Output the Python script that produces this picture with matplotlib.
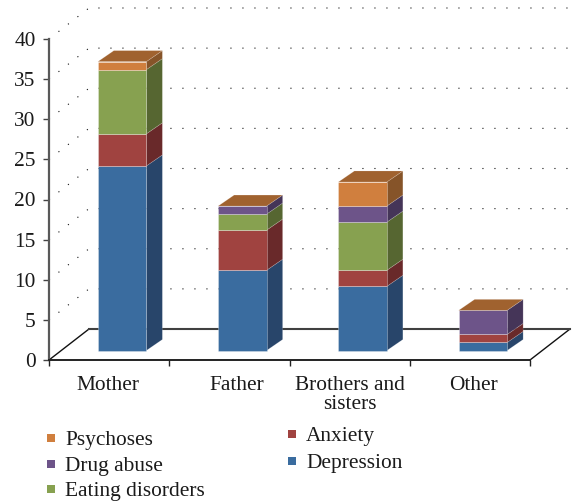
import numpy as np
from matplotlib import pyplot as plt
from matplotlib.patches import Polygon

plt.rcParams['font.family'] = ['Liberation Serif', 'DejaVu Serif']

categories = ["Mother", "Father", "Brothers and\nsisters", "Other"]
depression = [23, 10, 8, 1]
anxiety = [4, 5, 2, 1]
eating = [8, 2, 6, 0]
drug = [0, 1, 2, 3]
psychoses = [1, 0, 3, 0]

y_ticks = [0, 5, 10, 15, 20, 25, 30, 35, 40]

names = ["Depression", "Anxiety", "Eating disorders", "Drug abuse", "Psychoses"]
series = [depression, anxiety, eating, drug, psychoses]
front_cols = ["#3a6c9f", "#a04340", "#87a150", "#6d5489", "#d07f3e"]
side_cols = ["#28456a", "#69292a", "#566631", "#453558", "#865429"]
top_col = "#a0622f"

W, H = 573, 504
PX_L, PX_R, PX_T, PX_B = 49, 530, 39, 360
FS = 15.4

fig = plt.figure(figsize=(W / 100, H / 100), dpi=100)
ax = fig.add_axes([PX_L / W, 1 - PX_B / H, (PX_R - PX_L) / W, (PX_B - PX_T) / H])
ax.set_xlim(0, 4)
ax.set_ylim(0, 40)
x_px = (PX_R - PX_L) / 4
y_px = (PX_B - PX_T) / 40

# fake 3d: depth of the floor and of the bars, px converted to data units
floor_dx, floor_dy = 40 / x_px, 31 / y_px
bar_dx, bar_dy = 16 / x_px, 11 / y_px
shift_x, lift = 13 / x_px, 9.5 / y_px
bar_w = 48.5 / x_px

# floor
ax.add_patch(Polygon([(0, 0), (floor_dx, floor_dy), (4 + floor_dx, floor_dy), (4, 0)],
                     closed=True, fc="white", ec="none", clip_on=False, zorder=1))
ax.plot([0, floor_dx], [0, floor_dy], color="#111111", lw=1.0, clip_on=False, zorder=2)
ax.plot([4, 4 + floor_dx], [0, floor_dy], color="#111111", lw=1.0, clip_on=False, zorder=2)
ax.plot([floor_dx, 4 + floor_dx], [floor_dy, floor_dy], color="#404040", lw=1.5, clip_on=False, zorder=2)

# dotted walls
for v in y_ticks[1:]:
    ax.plot([0, floor_dx, 4 + floor_dx], [v, v + floor_dy, v + floor_dy], color="#111111",
            lw=0.8, ls=(0, (1, 9.8)), clip_on=False, zorder=1.5)

# bars
bottoms = np.zeros(len(categories))
for k, vals in enumerate(series):
    vals = np.array(vals, dtype=float)
    for i in range(len(categories)):
        if vals[i] == 0:
            continue
        x0 = i + 0.5 - bar_w / 2 + shift_x
        y0 = bottoms[i] + lift
        y1 = y0 + vals[i]
        ax.bar(x0, vals[i], width=bar_w, bottom=y0, align="edge", color=front_cols[k],
               edgecolor="#ffffff55", linewidth=0.6, clip_on=False, zorder=4)
        ax.add_patch(Polygon([(x0 + bar_w, y0), (x0 + bar_w + bar_dx, y0 + bar_dy),
                              (x0 + bar_w + bar_dx, y1 + bar_dy), (x0 + bar_w, y1)],
                             closed=True, fc=side_cols[k], ec="#ffffff33", lw=0.5, clip_on=False, zorder=3))
    bottoms += vals

# top caps are always the same brown
for i in range(len(categories)):
    x0 = i + 0.5 - bar_w / 2 + shift_x
    y1 = bottoms[i] + lift
    ax.add_patch(Polygon([(x0, y1), (x0 + bar_dx, y1 + bar_dy), (x0 + bar_w + bar_dx, y1 + bar_dy),
                          (x0 + bar_w, y1)], closed=True, fc=top_col, ec="#ffffff33", lw=0.5,
                         clip_on=False, zorder=5))

# axes
for s in ["top", "right"]:
    ax.spines[s].set_visible(False)
ax.patch.set_alpha(0)
ax.spines["left"].set_color("#595959")
ax.spines["left"].set_linewidth(1.6)
ax.spines["bottom"].set_color("#222222")
ax.spines["bottom"].set_linewidth(1.4)
ax.spines["left"].set_zorder(6)
ax.spines["bottom"].set_zorder(6)
ax.set_yticks(y_ticks)
ax.tick_params(axis="y", labelsize=FS, length=4.5, width=1.0, color="#444444", pad=5, labelcolor="#1a1a1a")
ax.set_xticks([0, 1, 2, 3, 4])
ax.set_xticklabels([])
ax.tick_params(axis="x", length=4.5, width=1.0, color="#222222")
label_pos = [0.49, 1.56, 2.50, 3.53]
ax.set_xticks(label_pos, minor=True)
ax.set_xticklabels(categories, minor=True, fontsize=FS, color="#1a1a1a", linespacing=1.0)
ax.tick_params(axis="x", which="minor", length=0, pad=11.5)

# legend, two offset columns as in the original
legend_spots = {
    "Psychoses": (51, 438), "Drug abuse": (51, 464), "Eating disorders": (51, 489),
    "Anxiety": (292, 434), "Depression": (292, 461),
}
for k, name in enumerate(names):
    lx, ly = legend_spots[name]
    fig.add_artist(plt.Line2D([lx / W], [1 - ly / H], marker="s", ms=5.6, mew=0, color=front_cols[k],
                              ls="none", transform=fig.transFigure))
    fig.text((lx + 14) / W, 1 - ly / H, name, fontsize=FS, color="#1a1a1a", va="center_baseline")

fig.savefig("out.png", dpi=100)
